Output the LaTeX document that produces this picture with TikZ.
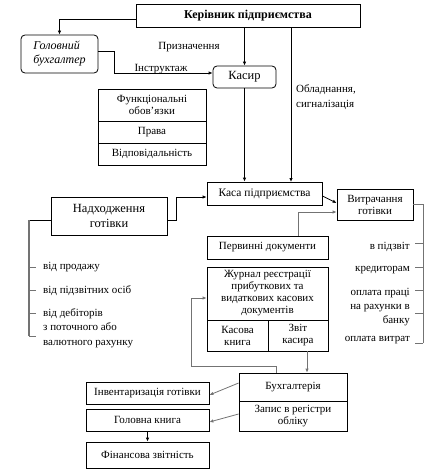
\documentclass[tikz,border=0pt]{standalone}
\usepackage{fontspec}
\setmainfont{Liberation Serif}
\newfontfamily\tnr{Liberation Serif}
\usetikzlibrary{arrows.meta,calc}
\begin{document}
\begin{tikzpicture}[x=1pt,y=-1pt,
  every node/.style={font=\tnr\fontsize{11}{12}\selectfont, inner sep=1pt},
  box/.style={draw, thick, minimum width=#1, align=center},
  rbox/.style={draw, thick, rounded corners=4pt, minimum width=#1, align=center},
  conn/.style={thick, -{Latex[length=4pt,width=3.5pt]}},
  gconn/.style={thick, draw=black!55, -{Latex[length=4pt,width=3.5pt]}},
  gline/.style={thick, draw=black!55},
  lbl/.style={inner sep=0pt}
]
\useasboundingbox (0,0) rectangle (436,476);
% boxes
\node[box=224pt, minimum height=23pt, font=\tnr\fontsize{12}{13}\selectfont\bfseries] (ker) at (248,15.5) {Керівник підприємства};
\node[rbox=77pt, minimum height=38pt, font=\tnr\fontsize{12}{14}\selectfont\itshape, align=left] (hol) at (59.5,54) {Головний\\бухгалтер};
\node[rbox=63pt, minimum height=22pt, font=\tnr\fontsize{12.5}{13}\selectfont] (kas) at (244.5,77) {Касир};
\node[box=108pt, minimum height=32pt] (t1) at (152,105) {Функціональні\\обов’язки};
\node[box=108pt, minimum height=22pt] (t2) at (152,132) {Права};
\node[box=108pt, minimum height=22pt] (t3) at (152,154) {Відповідальність};
\node[box=115pt, minimum height=23pt, font=\tnr\fontsize{11.5}{13}\selectfont] (kasa) at (264.5,193.5) {Каса підприємства};
\node[box=76pt, minimum height=31pt] (vytr) at (375,204.5) {Витрачання\\готівки};
\node[box=116pt, minimum height=38pt, font=\tnr\fontsize{12.5}{15}\selectfont] (nadh) at (109,216) {Надходження\\готівки};
\node[box=121pt, minimum height=23pt] (perv) at (267.5,247.5) {Первинні документи};
\node[box=121pt, minimum height=53pt] (zhur) at (267.5,293.5) {Журнал реєстрації\\прибуткових та\\видаткових касових\\документів};
\node[box=61pt, minimum height=31pt] (kn) at (237.5,335.5) {Касова\\книга};
\node[box=60pt, minimum height=31pt] (zv) at (298,335.5) {Звіт\\касира};
\node[box=108pt, minimum height=28pt] (buh) at (293,387) {Бухгалтерія};
\node[box=108pt, minimum height=30pt] (zap) at (293,416) {Запис в регістри\\обліку};
\node[box=123pt, minimum height=22pt] (inv) at (147.5,393) {Інвентаризація готівки};
\node[box=123pt, minimum height=22pt] (gk) at (147.5,420) {Головна книга};
\node[box=123pt, minimum height=26pt] (fin) at (147.5,455) {Фінансова звітність};
% labels
\node[lbl] (lp) at (189,47) {Призначення};
\node[lbl] (li) at (161,69) {Інструктаж};
\node[lbl, anchor=north west, align=left, font=\tnr\fontsize{11}{15}\selectfont] (lo) at (296,84) {Обладнання,\\сигналізація};
\node[lbl, anchor=west] (n1) at (43,267) {від продажу};
\node[lbl, anchor=west] (n2) at (43,291) {від підзвітних осіб};
\node[lbl, anchor=north west, align=left, font=\tnr\fontsize{11}{14.5}\selectfont] (n3) at (43,308) {від дебіторів\\з поточного або\\валютного рахунку};
\node[lbl, anchor=east] (v1) at (410,247) {в підзвіт};
\node[lbl, anchor=east] (v2) at (410,270) {кредиторам};
\node[lbl, anchor=north east, align=right, font=\tnr\fontsize{11}{14}\selectfont] (v3) at (410,288) {оплата праці\\на рахунки в\\банку};
\node[lbl, anchor=east] (v4) at (410,340) {оплата витрат};
% coordinates
\coordinate (kasaIn2) at (291,182);
\coordinate (lb) at (29,336);
\coordinate (rb) at (423,343);
% connectors
\draw[conn] ([yshift=-3.5pt]ker.west) -| (hol.north);
\draw[conn] ([yshift=3pt]hol.east) -- ++(16,0) |- ([yshift=4pt]kas.west);
\draw[conn] (ker.south -| kas.north) -- (kas.north);
\draw[conn] (kas.south) -- (kas.south |- kasa.north);
\draw[conn] (ker.south -| kasaIn2) -- (kasaIn2);
\draw[conn] ([yshift=-4pt]nadh.east) -- ++(9,0) |- ([yshift=-3.5pt]kasa.west);
\draw[conn] ([yshift=-2.5pt]kasa.east) -- ([yshift=1.5pt]vytr.west);
\draw[gconn] ([xshift=30.5pt]perv.north) |- ([yshift=-7.5pt]vytr.west);
\draw[gconn] ([xshift=-17pt]buh.north) -- ++(0,-6) -| (191,298) -- ([yshift=-4.5pt]zhur.west);
\draw[gconn] ([xshift=9pt]zv.south) -- ([xshift=14pt]buh.north);
\draw[gconn] ([yshift=4pt]buh.west) -- ([yshift=-2pt]inv.east);
\draw[gconn] ([yshift=2pt]zap.west) -- ([yshift=-2pt]gk.east);
\draw[conn] (gk.south) -- (fin.north);
% left bracket
\draw[thick] ([yshift=-4pt]nadh.west) -- ([yshift=-4pt]nadh.west -| lb);
\draw[line width=1.2pt, draw=black!55] ([yshift=-4pt]nadh.west -| lb) -- (lb);
\foreach \yy in {267,290,313,336} \draw[gline] (29,\yy) -- (36,\yy);
% right bracket
\draw[thick, draw=black!55] (vytr.east) -- (vytr.east -| rb) -- (rb);
\foreach \yy in {243,267,290,313,343} \draw[gline] (423,\yy) -- (415,\yy);
\end{tikzpicture}
\end{document}
